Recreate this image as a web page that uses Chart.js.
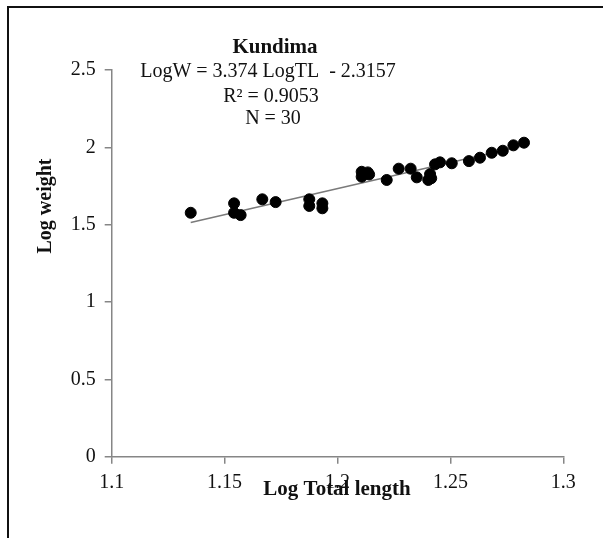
<!DOCTYPE html>
<html>
<head>
<meta charset="utf-8">
<script src="https://cdn.jsdelivr.net/npm/chart.js@4.4.1/dist/chart.umd.min.js"></script>
<style>
  html, body { margin: 0; padding: 0; background: #fff; }
  canvas { display: block; }
</style>
</head>
<body>
<canvas id="lwChart" width="603" height="538"></canvas>
<script>
// Log total length vs log weight (Kundima)
const logLength = [1.1350, 1.1542, 1.1542, 1.1571, 1.1667, 1.1726, 1.1875, 1.1875, 1.1933, 1.1933,
                   1.2107, 1.2107, 1.2134, 1.2140, 1.2218, 1.2271, 1.2324, 1.2351, 1.2402, 1.2410,
                   1.2415, 1.2432, 1.2454, 1.2506, 1.2582, 1.2631, 1.2683, 1.2732, 1.2779, 1.2826];
const logWeight = [1.577, 1.638, 1.577, 1.562, 1.664, 1.646, 1.664, 1.621, 1.638, 1.606,
                   1.842, 1.810, 1.838, 1.825, 1.789, 1.862, 1.862, 1.806, 1.789, 1.827,
                   1.800, 1.890, 1.903, 1.897, 1.911, 1.933, 1.965, 1.978, 2.013, 2.030];

const slope = 3.374;
const intercept = -2.3157;
const trendRange = [1.1350, 1.2826];

const xTicks = [1.1, 1.15, 1.2, 1.25, 1.3];
const xTickLabels = ['1.1', '1.15', '1.2', '1.25', '1.3'];
const yTicks = [0, 0.5, 1, 1.5, 2, 2.5];
const yTickLabels = ['0', '0.5', '1', '1.5', '2', '2.5'];

const titleLines = ['Kundima', 'LogW = 3.374 LogTL  - 2.3157', 'R² = 0.9053', 'N = 30'];
const xTitle = 'Log Total length';
const yTitle = 'Log weight';

const serif = '"Liberation Serif", "Times New Roman", serif';
const axisGrey = '#868686';

const points = logLength.map((x, i) => ({ x: x, y: logWeight[i] }));
const trend = trendRange.map(x => ({ x: x, y: slope * x + intercept }));

// frame + text drawn on the canvas
const decor = {
    id: 'decor',
    beforeDraw(chart) {
        const ctx = chart.ctx;
        ctx.save();
        ctx.strokeStyle = '#111';
        ctx.lineWidth = 2;
        ctx.beginPath();
        ctx.moveTo(8, 538);
        ctx.lineTo(8, 7);
        ctx.lineTo(603, 7);
        ctx.stroke();
        ctx.restore();
    },
    afterDraw(chart) {
        const ctx = chart.ctx;
        ctx.save();
        ctx.fillStyle = '#111';
        ctx.textAlign = 'center';
        ctx.textBaseline = 'middle';
        ctx.font = 'bold 21px ' + serif;
        ctx.fillText(titleLines[0], 275, 48);
        ctx.font = '20px ' + serif;
        ctx.fillText(titleLines[1], 268, 72);
        ctx.fillText(titleLines[2], 271, 97);
        ctx.fillText(titleLines[3], 273, 119);

        ctx.font = 'bold 21px ' + serif;
        ctx.fillText(xTitle, 337, 490);
        ctx.font = 'bold 20px ' + serif;
        ctx.translate(46, 206);
        ctx.rotate(-Math.PI / 2);
        ctx.fillText(yTitle, 0, 0);
        ctx.restore();
    }
};

const ctx = document.getElementById('lwChart').getContext('2d');
const chart = new Chart(ctx, {
    type: 'scatter',
    data: {
        datasets: [
            {
                label: 'Log weight',
                data: points,
                backgroundColor: '#000',
                borderColor: '#000',
                pointRadius: 5.5,
                pointHoverRadius: 5.5
            },
            {
                type: 'line',
                label: 'Trend',
                data: trend,
                borderColor: '#7a7a7a',
                borderWidth: 1.5,
                pointRadius: 0,
                fill: false
            }
        ]
    },
    options: {
        responsive: false,
        animation: false,
        layout: {
            padding: { left: 0, top: 70, right: 39.7, bottom: 0 }
        },
        plugins: {
            legend: { display: false },
            tooltip: { enabled: false }
        },
        scales: {
            x: {
                type: 'linear',
                min: 1.1,
                max: 1.3,
                afterBuildTicks: scale => { scale.ticks = xTicks.map(v => ({ value: v })); },
                afterFit: scale => { scale.height = 81.3; },
                border: { display: true, color: axisGrey, width: 1.5 },
                grid: { drawOnChartArea: false, tickLength: 7, color: axisGrey, lineWidth: 1.5 },
                ticks: {
                    padding: 7,
                    color: '#111',
                    font: { family: serif, size: 20 },
                    maxRotation: 0,
                    callback: (v, i) => xTickLabels[i]
                }
            },
            y: {
                type: 'linear',
                min: 0,
                max: 2.5,
                afterBuildTicks: scale => { scale.ticks = yTicks.map(v => ({ value: v })); },
                afterFit: scale => { scale.width = 111.7; },
                border: { display: true, color: axisGrey, width: 1.5 },
                grid: { drawOnChartArea: false, tickLength: 7, color: axisGrey, lineWidth: 1.5 },
                ticks: {
                    padding: 9,
                    color: '#111',
                    font: { family: serif, size: 20 },
                    callback: (v, i) => yTickLabels[i]
                }
            }
        }
    },
    plugins: [decor]
});
</script>
</body>
</html>
